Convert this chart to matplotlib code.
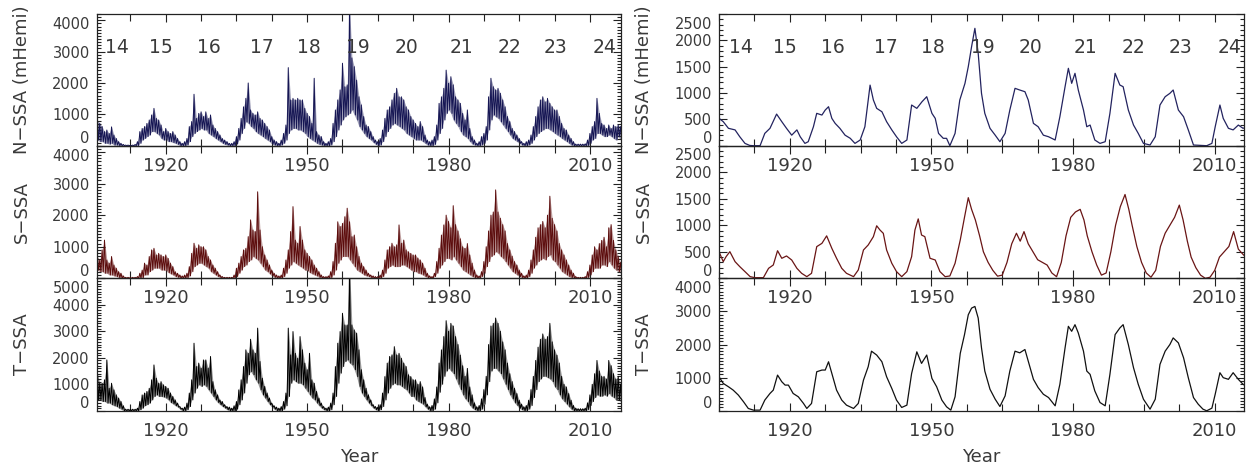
import numpy as np
import matplotlib
matplotlib.use('Agg')
import matplotlib.pyplot as plt
from matplotlib.ticker import FixedLocator, MultipleLocator
from matplotlib.transforms import ScaledTranslation

# ---- daily sunspot area (left column), read as half-year envelopes ----
# grid: 1905.0, 1905.5, ... 2016.5  (10 values per 5-year row)
t_half = np.arange(1905.0, 2016.75, 0.5)

n_high = [820, 820, 710, 610, 450, 500, 390, 600, 340, 230,
          130, 75, 40, 20, 20, 15, 20, 40, 130, 450,
          550, 610, 710, 820, 980, 1190, 870, 820, 660, 450,
          550, 450, 390, 450, 340, 230, 130, 75, 130, 230,
          610, 770, 1640, 870, 1030, 1080, 930, 1080, 870, 980,
          660, 550, 450, 340, 230, 180, 130, 75, 75, 130,
          290, 550, 870, 1240, 1510, 2000, 1140, 1030, 980, 1080,
          870, 820, 710, 610, 500, 290, 180, 130, 75, 180,
          390, 660, 2490, 1460, 1510, 1460, 1510, 1460, 1460, 1190,
          1030, 930, 710, 2150, 450, 340, 290, 130, 75, 130,
          230, 710, 1140, 1460, 1780, 2630, 1880, 1940, 4500, 2800,
          2520, 2090, 1560, 1300, 930, 660, 610, 450, 290, 180,
          130, 230, 500, 870, 1140, 1240, 1460, 1670, 1830, 1560,
          1560, 1460, 1240, 1140, 930, 820, 710, 610, 770, 610,
          340, 180, 130, 180, 290, 660, 1350, 1560, 1830, 2410,
          1990, 2200, 1940, 1560, 1460, 1350, 1030, 820, 1140, 550,
          290, 180, 75, 130, 290, 390, 610, 1560, 2150, 1880,
          1780, 1830, 1670, 1460, 1240, 930, 770, 550, 450, 340,
          230, 130, 75, 130, 180, 340, 610, 930, 1240, 1460,
          1560, 1400, 1510, 1350, 1240, 1140, 1140, 930, 710, 550,
          500, 340, 230, 130, 50, 50, 50, 50, 60, 180,
          390, 610, 770, 1510, 1030, 710, 660, 550, 660, 550,
          660, 610, 660, 610]
n_low = [180, 180, 130, 130, 75, 75, 50, 75, 20, 20,
         0, 0, 0, 0, 0, 0, 0, 0, 0, 75,
         180, 230, 290, 340, 450, 450, 390, 340, 230, 180,
         180, 130, 130, 100, 75, 40, 0, 0, 0, 20,
         130, 290, 390, 450, 500, 550, 500, 500, 390, 340,
         290, 230, 180, 130, 75, 40, 20, 0, 0, 0,
         50, 180, 390, 550, 760, 710, 610, 550, 450, 390,
         340, 290, 230, 180, 130, 50, 20, 0, 0, 20,
         75, 180, 390, 500, 550, 550, 500, 500, 450, 390,
         290, 230, 180, 130, 75, 40, 20, 0, 0, 0,
         20, 130, 290, 500, 660, 820, 920, 980, 1030, 1140,
         980, 820, 610, 500, 390, 290, 230, 180, 100, 40,
         0, 20, 130, 290, 450, 550, 660, 710, 660, 610,
         550, 500, 390, 340, 290, 230, 180, 180, 180, 130,
         75, 20, 0, 0, 40, 180, 390, 550, 820, 1030,
         1140, 1030, 820, 710, 610, 450, 340, 290, 230, 130,
         50, 20, 0, 0, 20, 75, 180, 500, 820, 980,
         920, 870, 760, 660, 550, 450, 340, 230, 180, 130,
         75, 20, 0, 0, 20, 75, 180, 290, 390, 450,
         500, 550, 550, 500, 450, 390, 340, 290, 230, 180,
         130, 75, 20, 0, 0, 0, 0, 0, 0, 0,
         75, 180, 230, 390, 390, 340, 290, 290, 340, 290,
         230, 180, 290, 180]

s_high = [700, 690, 580, 900, 1210, 580, 480, 690, 420, 320,
          210, 160, 75, 30, 30, 30, 30, 30, 55, 160,
          260, 480, 420, 690, 900, 950, 740, 790, 740, 690,
          740, 630, 480, 370, 210, 160, 105, 75, 105, 160,
          370, 790, 1110, 950, 1060, 1000, 1000, 900, 690, 580,
          420, 320, 210, 105, 55, 30, 30, 30, 30, 105,
          320, 480, 690, 900, 950, 1320, 1850, 1530, 1480, 2740,
          1530, 1000, 740, 580, 420, 260, 160, 105, 75, 105,
          320, 580, 900, 1480, 2270, 1210, 1110, 1640, 1210, 900,
          790, 690, 580, 420, 320, 210, 105, 55, 55, 75,
          210, 530, 1110, 1790, 1640, 1740, 1950, 2220, 1790, 1320,
          1370, 1000, 690, 480, 370, 260, 160, 105, 75, 55,
          55, 105, 260, 580, 900, 1000, 1110, 1000, 1060, 1690,
          1110, 1210, 900, 840, 790, 740, 740, 640, 580, 480,
          320, 160, 75, 55, 160, 530, 950, 1370, 1690, 2000,
          1800, 1600, 2300, 1700, 1500, 1250, 1000, 950, 1100, 740,
          480, 260, 105, 75, 210, 530, 1000, 1500, 2000, 2100,
          2800, 2100, 1900, 1700, 1500, 1100, 900, 700, 530, 420,
          260, 160, 75, 105, 260, 580, 900, 1300, 1600, 1700,
          1800, 1600, 2000, 2600, 1900, 1700, 1500, 1100, 900, 740,
          580, 420, 260, 160, 55, 30, 30, 30, 55, 210,
          420, 740, 1000, 900, 1100, 1200, 1300, 1000, 1600, 1700,
          1200, 900, 700, 500]
s_low = [260, 260, 210, 210, 160, 160, 105, 105, 75, 55,
         20, 0, 0, 0, 0, 0, 0, 0, 0, 0,
         20, 105, 105, 210, 260, 320, 320, 320, 260, 260,
         240, 180, 140, 105, 55, 30, 0, 0, 0, 20,
         75, 210, 370, 420, 475, 475, 420, 370, 320, 210,
         160, 105, 55, 20, 0, 0, 0, 0, 0, 0,
         55, 160, 260, 370, 420, 530, 580, 690, 630, 580,
         475, 370, 260, 210, 140, 75, 30, 0, 0, 0,
         55, 160, 320, 420, 530, 475, 420, 370, 320, 260,
         240, 180, 140, 105, 75, 30, 0, 0, 0, 0,
         20, 105, 260, 475, 580, 690, 690, 690, 580, 475,
         370, 260, 210, 160, 105, 75, 55, 20, 0, 0,
         0, 0, 55, 160, 320, 370, 420, 370, 370, 370,
         420, 420, 370, 320, 260, 210, 210, 160, 140, 105,
         55, 20, 0, 0, 55, 160, 320, 420, 530, 630,
         630, 580, 690, 580, 475, 370, 260, 210, 160, 105,
         55, 20, 0, 0, 55, 160, 370, 530, 690, 740,
         840, 790, 690, 630, 530, 420, 320, 210, 160, 105,
         55, 20, 0, 0, 55, 160, 320, 420, 530, 580,
         630, 580, 690, 740, 580, 530, 420, 320, 210, 160,
         105, 55, 20, 0, 0, 0, 0, 0, 0, 20,
         105, 210, 320, 320, 320, 420, 420, 370, 530, 420,
         320, 260, 210, 160]

t_high = [1400, 1420, 1040, 1040, 1170, 1920, 850, 1040, 790, 600,
          480, 350, 190, 60, 60, 60, 60, 60, 100, 350,
          600, 670, 730, 850, 1170, 1730, 1230, 1040, 1100, 980,
          920, 850, 670, 540, 410, 290, 160, 100, 140, 290,
          670, 1170, 2550, 1670, 1800, 1610, 1920, 1920, 1610, 2050,
          1100, 790, 600, 410, 350, 230, 160, 140, 100, 190,
          350, 790, 1170, 1670, 2300, 2170, 2700, 2300, 2170, 3120,
          1860, 1230, 920, 670, 480, 290, 190, 140, 100, 160,
          350, 670, 3120, 2110, 2990, 2170, 1980, 2800, 2300, 1800,
          1550, 2170, 1170, 1040, 730, 480, 290, 160, 100, 140,
          290, 670, 1670, 2550, 2990, 3680, 3240, 3240, 5500, 3240,
          3050, 2930, 2300, 1550, 1170, 850, 600, 410, 230, 160,
          140, 230, 670, 1290, 1800, 2050, 2110, 2420, 2110, 2170,
          1980, 1800, 1670, 1360, 1290, 1170, 1170, 1000, 1100, 900,
          500, 250, 150, 200, 450, 900, 1800, 2300, 2800, 3400,
          3000, 3300, 3200, 2800, 2500, 2100, 1700, 1300, 1600, 900,
          600, 300, 150, 200, 450, 800, 1300, 2500, 3200, 3300,
          3500, 3300, 3000, 2600, 2300, 1800, 1400, 1100, 850, 650,
          400, 250, 150, 200, 400, 800, 1300, 1900, 2400, 2700,
          2900, 2700, 2800, 3300, 2600, 2300, 2100, 1800, 1300, 1000,
          900, 650, 400, 200, 100, 80, 80, 80, 100, 300,
          600, 1000, 1400, 1900, 1500, 1300, 1300, 1200, 1900, 1700,
          1400, 1200, 1300, 1000]
t_low = [420, 410, 410, 350, 350, 290, 290, 230, 190, 160,
         100, 60, 0, 0, 0, 0, 0, 0, 0, 40,
         100, 190, 230, 290, 410, 540, 600, 540, 540, 520,
         480, 410, 310, 260, 190, 140, 60, 0, 0, 40,
         160, 410, 670, 850, 980, 920, 980, 920, 790, 670,
         540, 410, 310, 230, 160, 100, 40, 0, 0, 0,
         60, 230, 410, 670, 1040, 1360, 1480, 1360, 1170, 1040,
         790, 600, 480, 350, 230, 140, 60, 0, 0, 0,
         60, 190, 540, 1040, 1170, 1100, 1040, 1040, 980, 850,
         730, 600, 480, 410, 290, 190, 100, 40, 0, 0,
         40, 230, 540, 1040, 1420, 1670, 1860, 1920, 1800, 1730,
         1550, 1290, 920, 670, 540, 410, 290, 190, 100, 40,
         0, 40, 160, 410, 670, 850, 980, 1040, 980, 980,
         920, 850, 790, 670, 540, 540, 410, 350, 300, 250,
         150, 60, 0, 0, 60, 300, 700, 1000, 1300, 1500,
         1600, 1500, 1400, 1200, 1000, 800, 600, 450, 350, 200,
         100, 40, 0, 0, 60, 250, 600, 1100, 1500, 1600,
         1600, 1500, 1400, 1200, 1000, 800, 600, 450, 300, 200,
         100, 40, 0, 0, 60, 200, 500, 800, 1100, 1200,
         1300, 1300, 1250, 1200, 1100, 900, 800, 600, 450, 350,
         250, 150, 60, 0, 0, 0, 0, 0, 0, 40,
         200, 350, 500, 600, 550, 550, 600, 550, 650, 550,
         500, 400, 400, 350]

# ---- smoothed sunspot area (right column) ----
n_sm_year = [1905.0, 1905.9, 1907.0, 1908.4, 1909.4, 1910.5, 1911.5, 1912.3, 1913.7, 1914.7,
             1915.8, 1917.2, 1918.3, 1919.3, 1920.4, 1921.5, 1922.2, 1923.2, 1923.9, 1925.0,
             1925.7, 1926.8, 1927.5, 1928.2, 1928.9, 1929.6, 1930.6, 1931.7, 1932.8, 1933.8,
             1934.9, 1935.9, 1937.0, 1937.7, 1938.4, 1939.5, 1940.5, 1941.6, 1942.6, 1943.7,
             1944.8, 1945.8, 1946.9, 1948.0, 1949.0, 1950.1, 1950.8, 1951.5, 1952.5, 1953.2,
             1953.9, 1955.0, 1956.0, 1957.1, 1957.8, 1958.5, 1959.2, 1959.9, 1960.6, 1961.3,
             1962.4, 1963.5, 1964.5, 1965.6, 1966.6, 1967.7, 1968.7, 1969.8, 1970.5, 1971.6,
             1972.6, 1973.7, 1974.8, 1976.2, 1977.2, 1978.3, 1979.0, 1979.7, 1980.4, 1981.1,
             1982.2, 1982.9, 1983.6, 1984.6, 1985.7, 1986.8, 1987.8, 1988.9, 1989.9, 1990.6,
             1991.7, 1992.8, 1993.8, 1994.9, 1996.3, 1997.4, 1998.4, 1999.5, 2000.5, 2001.2,
             2002.3, 2003.4, 2004.4, 2005.5, 2008.3, 2009.4, 2010.1, 2011.1, 2011.8, 2012.9,
             2013.9, 2015.0, 2016.0, 2016.6]
n_sm = [520, 456, 330, 300, 170, 44, 5, 0, 0, 234,
        330, 600, 456, 330, 200, 300, 170, 44, 76, 360,
        614, 582, 677, 740, 519, 424, 330, 200, 140, 44,
        108, 360, 1150, 867, 709, 645, 456, 300, 170, 44,
        108, 772, 709, 835, 930, 614, 519, 234, 140, 140,
        0, 234, 867, 1184, 1500, 1880, 2228, 1753, 994, 614,
        330, 200, 76, 234, 677, 1089, 1057, 1025, 867, 424,
        360, 200, 170, 108, 550, 1120, 1469, 1184, 1374, 1057,
        677, 360, 392, 108, 44, 76, 614, 1374, 1152, 1120,
        677, 392, 234, 44, 13, 170, 772, 930, 994, 1057,
        677, 550, 300, 13, 0, 44, 360, 772, 519, 330,
        300, 392, 330, 350]

s_sm_year = [1905.0, 1905.9, 1906.5, 1907.3, 1908.4, 1909.4, 1910.5, 1911.6, 1912.6, 1914.4,
             1915.5, 1916.5, 1917.4, 1918.3, 1919.3, 1920.4, 1921.5, 1922.5, 1923.6, 1924.6,
             1925.7, 1926.8, 1927.8, 1928.9, 1929.9, 1931.0, 1932.0, 1933.5, 1934.5, 1935.6,
             1936.6, 1937.7, 1938.4, 1939.1, 1939.8, 1940.5, 1941.6, 1942.6, 1943.7, 1944.8,
             1945.8, 1946.5, 1947.2, 1947.9, 1948.6, 1949.7, 1950.8, 1951.8, 1952.9, 1953.9,
             1955.0, 1956.1, 1957.0, 1957.8, 1958.5, 1959.3, 1960.2, 1961.0, 1962.0, 1963.0,
             1964.0, 1965.0, 1966.0, 1967.0, 1968.0, 1968.8, 1969.6, 1970.5, 1971.5, 1972.5,
             1973.5, 1974.5, 1975.5, 1976.5, 1977.5, 1978.5, 1979.5, 1980.5, 1981.5, 1982.3,
             1983.0, 1984.0, 1985.0, 1986.0, 1987.0, 1988.0, 1989.0, 1990.0, 1991.0, 1991.8,
             1992.5, 1993.5, 1994.5, 1995.5, 1996.5, 1997.5, 1998.5, 1999.5, 2000.5, 2001.5,
             2002.5, 2003.3, 2004.2, 2005.0, 2006.0, 2007.0, 2008.0, 2009.0, 2010.0, 2011.0,
             2012.0, 2013.0, 2014.0, 2015.0, 2016.0, 2016.6]
s_sm = [502, 314, 408, 502, 314, 220, 126, 31, 12, 12,
        188, 251, 520, 377, 421, 345, 188, 94, 31, 94,
        597, 659, 800, 565, 377, 188, 94, 31, 157, 534,
        628, 785, 990, 910, 848, 534, 283, 126, 31, 126,
        408, 910, 1120, 816, 785, 377, 345, 126, 31, 44,
        283, 722, 1150, 1520, 1300, 1100, 800, 500, 300, 150,
        40, 60, 300, 650, 850, 700, 880, 650, 500, 350,
        300, 250, 100, 30, 300, 800, 1150, 1250, 1300, 1100,
        800, 500, 250, 60, 100, 500, 1000, 1350, 1580, 1300,
        1000, 600, 300, 100, 20, 150, 600, 850, 1000, 1150,
        1380, 1100, 700, 400, 200, 60, 0, 20, 150, 400,
        500, 600, 880, 550, 450, 400]

t_sm_year = [1905.0, 1905.9, 1907.0, 1908.0, 1909.1, 1910.2, 1911.2, 1912.3, 1913.7, 1914.7,
             1915.8, 1916.5, 1917.4, 1918.3, 1919.0, 1919.7, 1920.7, 1921.8, 1922.9, 1923.6,
             1924.6, 1925.7, 1926.8, 1927.5, 1928.2, 1928.9, 1929.9, 1931.0, 1932.0, 1933.5,
             1934.5, 1935.6, 1936.6, 1937.3, 1938.4, 1939.5, 1940.5, 1941.6, 1942.6, 1943.7,
             1944.8, 1945.8, 1946.9, 1947.9, 1949.0, 1950.1, 1951.1, 1952.2, 1953.2, 1954.1,
             1955.0, 1956.1, 1957.0, 1957.8, 1958.5, 1959.2, 1959.9, 1960.6, 1961.3, 1962.4,
             1963.5, 1964.5, 1965.6, 1966.6, 1967.7, 1968.7, 1969.8, 1970.5, 1971.6, 1972.6,
             1973.7, 1974.8, 1976.2, 1977.2, 1978.3, 1979.0, 1979.7, 1980.4, 1981.1, 1982.2,
             1982.9, 1983.6, 1984.6, 1985.7, 1986.8, 1987.8, 1988.9, 1989.9, 1990.6, 1991.7,
             1992.8, 1993.8, 1994.9, 1996.3, 1997.4, 1998.4, 1999.5, 2000.5, 2001.2, 2002.3,
             2003.4, 2004.4, 2005.5, 2006.5, 2007.5, 2008.3, 2009.4, 2010.1, 2011.1, 2011.8,
             2012.9, 2013.9, 2015.0, 2016.0, 2016.6]
t_sm = [1028, 827, 726, 625, 474, 272, 71, 20, 20, 323,
        524, 625, 1078, 877, 776, 776, 524, 423, 222, 71,
        222, 1179, 1230, 1230, 1480, 1129, 625, 323, 171, 71,
        222, 927, 1331, 1800, 1683, 1482, 1028, 675, 323, 101,
        171, 1129, 1780, 1431, 1683, 978, 726, 323, 121, 20,
        423, 1734, 2300, 2900, 3100, 3150, 2800, 1900, 1200, 650,
        350, 130, 450, 1200, 1800, 1750, 1850, 1500, 950, 700,
        500, 400, 150, 800, 1900, 2550, 2400, 2600, 2350, 1800,
        1200, 1100, 600, 250, 150, 1100, 2300, 2500, 2600, 2000,
        1300, 800, 350, 50, 350, 1400, 1800, 2000, 2200, 2050,
        1600, 1000, 400, 200, 50, 0, 80, 500, 1150, 1000,
        950, 1150, 950, 800, 750]

cycle_num = ['14', '15', '16', '17', '18', '19', '20', '21', '22', '23', '24']
cycle_pos = [1909.7, 1918.9, 1929.2, 1940.4, 1950.3, 1960.8, 1971.0, 1982.7, 1992.9, 2002.8, 2013.2]

year_ticks = [1920, 1950, 1980, 2010]

TXT = '#3a3a3a'
plt.rcParams['font.family'] = ['DejaVu Sans']


def zigzag(t, hi, lo):
    # alternate the high and low envelope to get the dense spiky look
    x = np.empty(2 * len(t))
    y = np.empty(2 * len(t))
    x[0::2] = t
    x[1::2] = t + 0.25
    y[0::2] = hi
    y[1::2] = lo
    return x, y


def nudge(label, dy_px):
    # move a tick label down by dy_px pixels (negative = up)
    label.set_transform(label.get_transform() +
                        ScaledTranslation(0, -dy_px / 100.0, fig.dpi_scale_trans))


def style_axis(ax, xlim, ylim, yticks):
    ax.set_xlim(*xlim)
    ax.set_ylim(*ylim)
    ax.patch.set_visible(False)
    ax.xaxis.set_major_locator(FixedLocator(year_ticks))
    ax.xaxis.set_minor_locator(MultipleLocator(7.5))
    ax.set_yticks(yticks)
    ax.yaxis.set_minor_locator(MultipleLocator(100))
    ax.tick_params(axis='both', which='both', direction='in', top=True, right=True,
                   colors='#222222', labelcolor=TXT, width=0.8)
    ax.tick_params(axis='x', which='major', length=6, pad=8, labelsize=13)
    ax.tick_params(axis='x', which='minor', length=5)
    ax.tick_params(axis='y', which='major', length=6, pad=5, labelsize=10.5)
    ax.tick_params(axis='y', which='minor', length=3)
    for sp in ax.spines.values():
        sp.set_linewidth(0.9)
        sp.set_color('#222222')
    # IDL-like label placement at the panel joins
    for val, tk in zip(yticks, ax.yaxis.get_major_ticks()):
        if val == 0:
            nudge(tk.label1, -8.7)
        elif val == ylim[1]:
            nudge(tk.label1, 8.7)
        elif ylim[1] - val < 300:
            nudge(tk.label1, 3)


fig = plt.figure(figsize=(12.48, 4.70), dpi=100)
W, H = 1248.0, 470.0
rows = [(14.0, 145.7), (145.7, 278.3), (278.3, 410.8)]
cols = [(96.7, 621.0), (719.0, 1244.0)]

left_series = [(n_high, n_low, '#151553', 4200, [0, 1000, 2000, 3000, 4000]),
               (s_high, s_low, '#5c0c0c', 4200, [0, 1000, 2000, 3000, 4000]),
               (t_high, t_low, '#000000', 5000, [0, 1000, 2000, 3000, 4000, 5000])]
right_series = [(n_sm_year, n_sm, '#23235f', 2500, [0, 500, 1000, 1500, 2000, 2500]),
                (s_sm_year, s_sm, '#6a1515', 2500, [0, 500, 1000, 1500, 2000, 2500]),
                (t_sm_year, t_sm, '#111111', 4000, [0, 1000, 2000, 3000, 4000])]
ylabels = ['N\u2212SSA (mHemi)', 'S\u2212SSA', 'T\u2212SSA']

for ci, (x0, x1) in enumerate(cols):
    for ri, (y0, y1) in enumerate(rows):
        ax = fig.add_axes([x0 / W, 1 - y1 / H, (x1 - x0) / W, (y1 - y0) / H])
        if ci == 0:
            hi, lo, col, ytop, yt = left_series[ri]
            ax.fill_between(t_half, lo, hi, color=col, alpha=0.4, lw=0)
            x, y = zigzag(t_half, hi, lo)
            ax.plot(x, y, color=col, lw=0.7)
            style_axis(ax, (1905.35, 2016.6), (0, ytop), yt)
        else:
            yrs, vals, col, ytop, yt = right_series[ri]
            ax.plot(yrs, vals, color=col, lw=0.9)
            style_axis(ax, (1905.0, 2016.2), (0, ytop), yt)
        if ri == 0:
            for num, pos in zip(cycle_num, cycle_pos):
                ax.text(pos, 0.742, num, transform=ax.get_xaxis_transform(),
                        ha='center', va='center', color=TXT, fontsize=13.5)
        fig.text((x0 - 75) / W, 1 - (y0 + y1) / 2 / H, ylabels[ri], rotation=90,
                 ha='center', va='center', color=TXT, fontsize=13)
    fig.text((x0 + x1) / 2 / W, 1 - 457 / H, 'Year', ha='center', va='center',
             color=TXT, fontsize=13)

fig.savefig('out.png', dpi=100)
